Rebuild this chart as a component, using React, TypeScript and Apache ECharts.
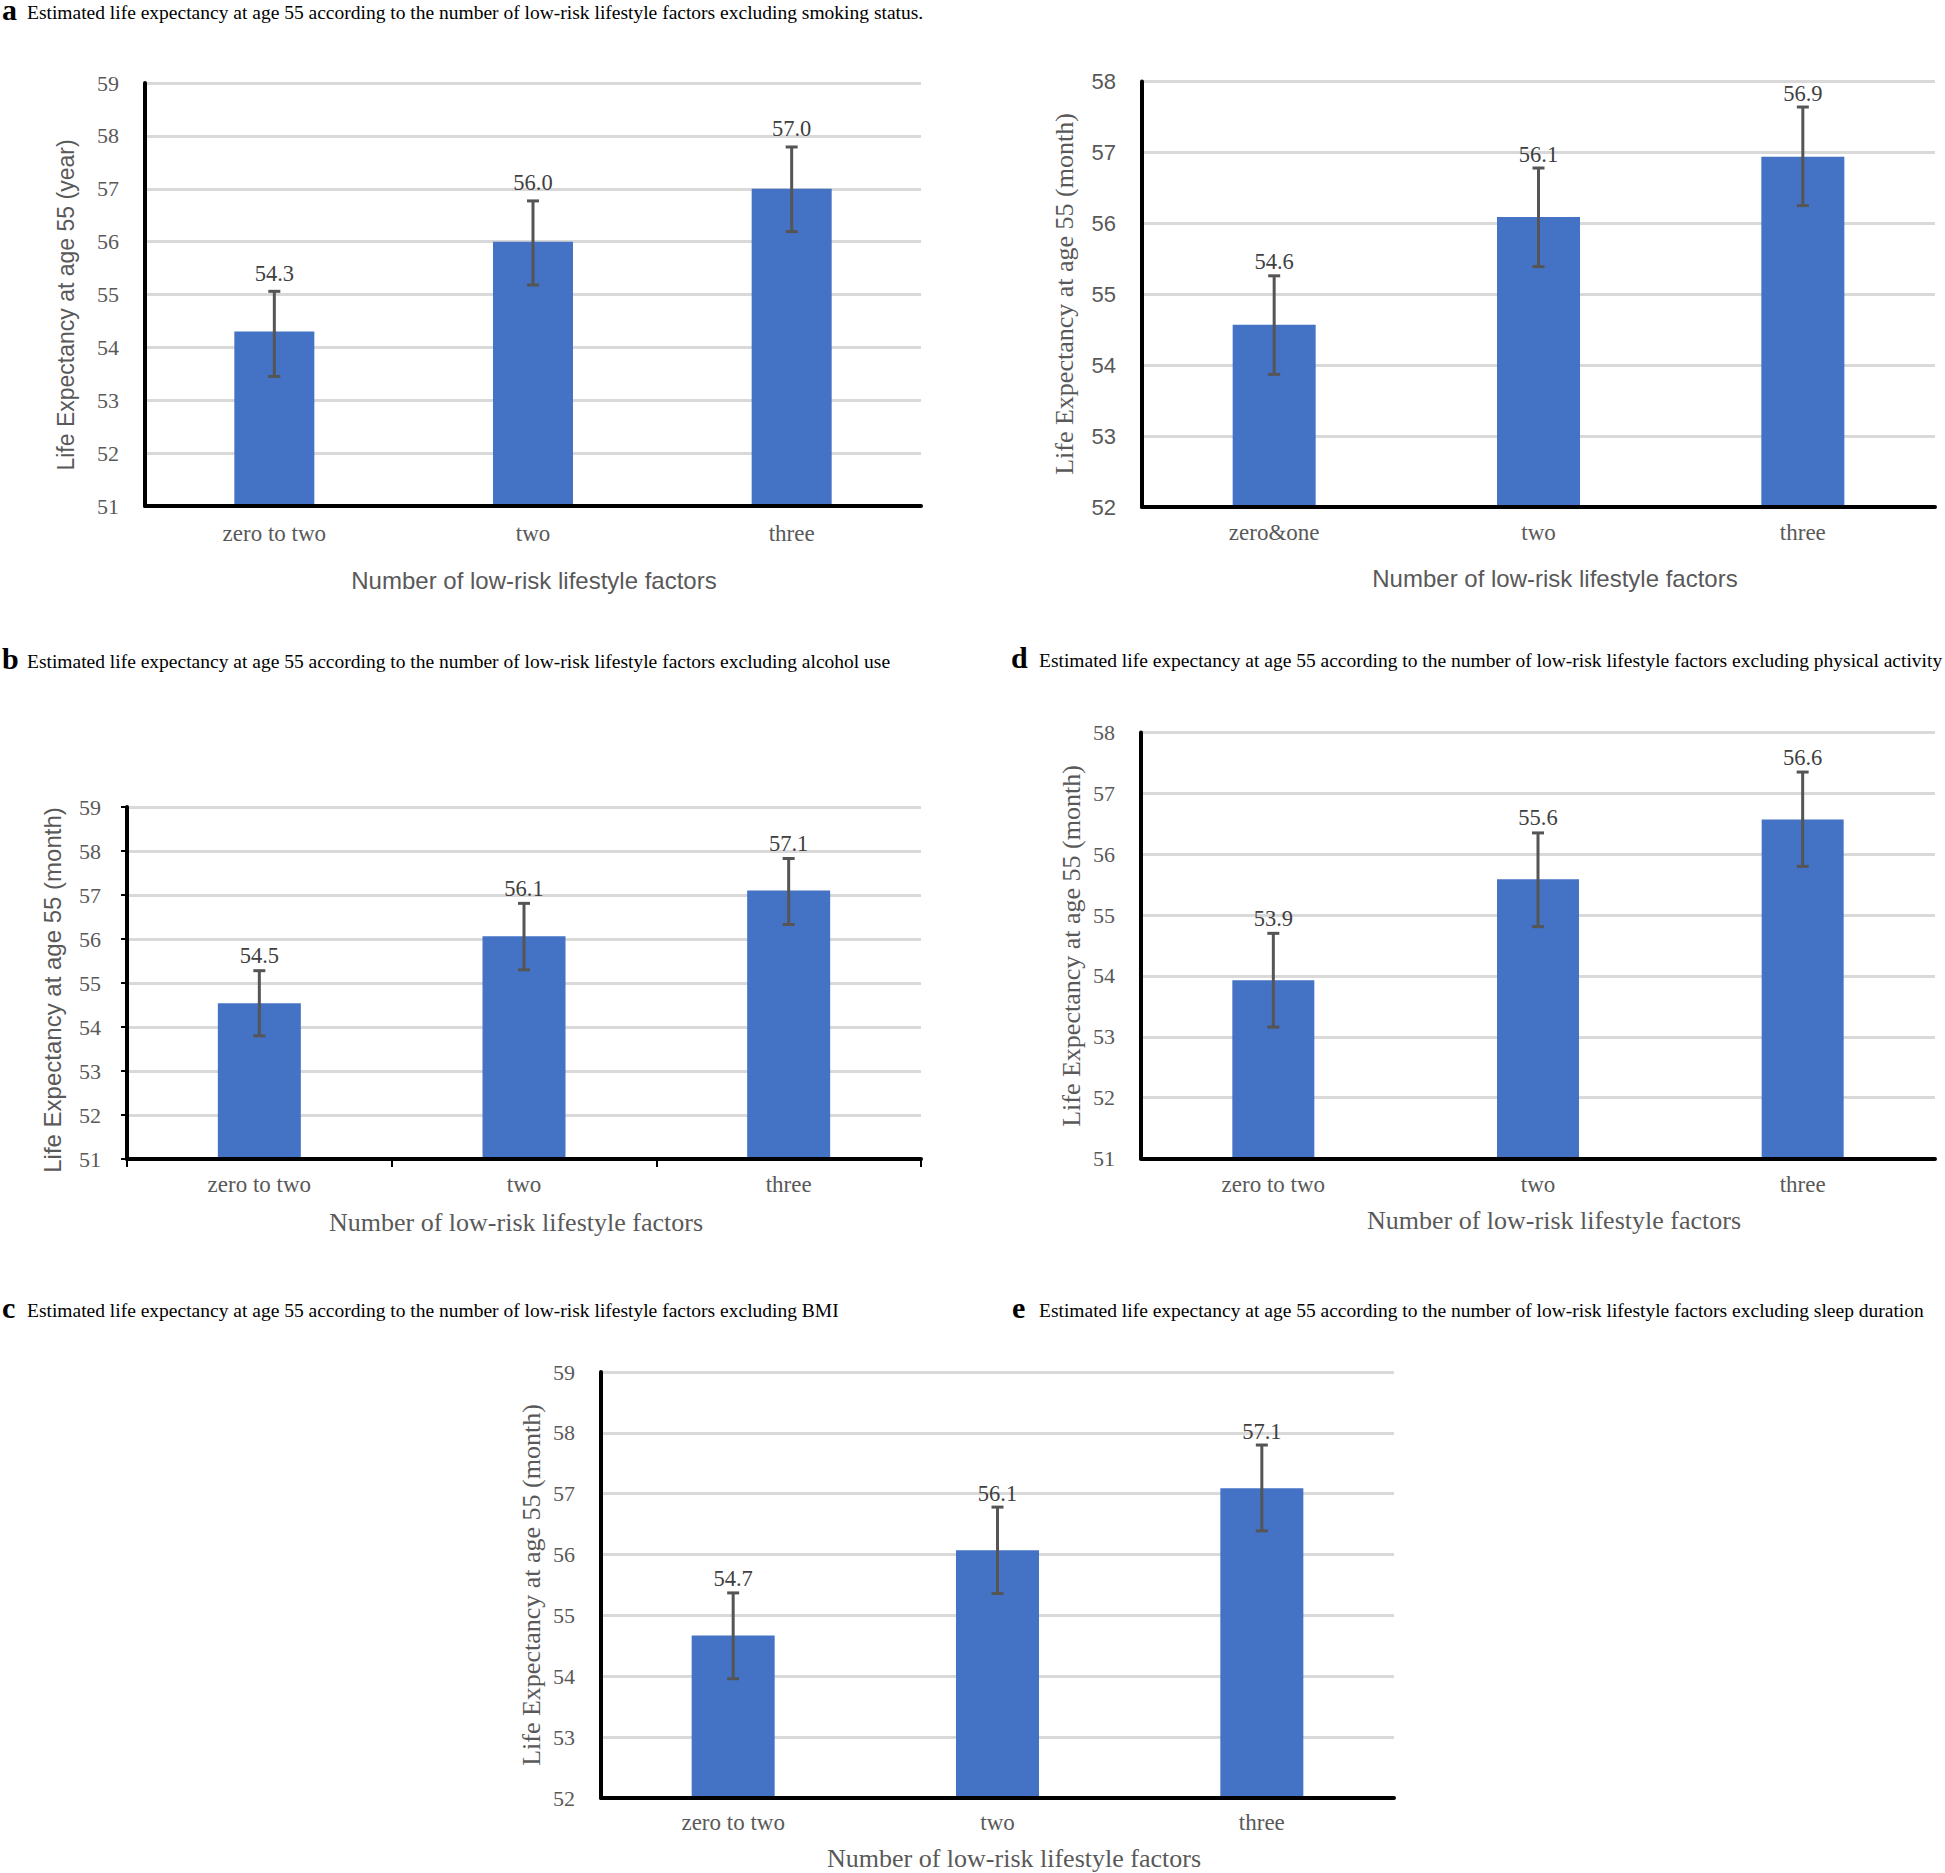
import React, { useEffect, useRef } from "react";
import * as echarts from "echarts";

const SERIF = '"Liberation Serif", "Times New Roman", serif';
const SANS = '"Liberation Sans", Arial, sans-serif';

const TITLE_STEM =
  "Estimated life expectancy at age 55 according to the number of low-risk lifestyle factors excluding ";
const X_NAME = "Number of low-risk lifestyle factors";

// Panel a (top-left)
const aCategories = ["zero to two", "two", "three"];
const aValues = [54.3, 56.0, 57.0];
const aLower = [53.45, 55.18, 56.19];
const aUpper = [55.06, 56.77, 57.79];
const aRange = [51, 59];

// Panel top-right (no caption)
const rCategories = ["zero&one", "two", "three"];
const rValues = [54.57, 56.09, 56.94];
const rLower = [53.87, 55.39, 56.25];
const rUpper = [55.26, 56.78, 57.64];
const rRange = [52, 58];

// Panel b (middle-left)
const bCategories = ["zero to two", "two", "three"];
const bValues = [54.54, 56.06, 57.1];
const bLower = [53.8, 55.3, 56.33];
const bUpper = [55.28, 56.81, 57.83];
const bRange = [51, 59];

// Panel d (middle-right)
const dCategories = ["zero to two", "two", "three"];
const dValues = [53.93, 55.59, 56.57];
const dLower = [53.16, 54.81, 55.8];
const dUpper = [54.7, 56.35, 57.35];
const dRange = [51, 58];

// Panel bottom (centered)
const eCategories = ["zero to two", "two", "three"];
const eValues = [54.67, 56.07, 57.09];
const eLower = [53.96, 55.36, 56.39];
const eUpper = [55.37, 56.78, 57.8];
const eRange = [52, 59];

const captions = [
  { letter: "a", text: TITLE_STEM + "smoking status.", lx: 2, tx: 27, ymid: 12 },
  { letter: "b", text: TITLE_STEM + "alcohol use", lx: 2, tx: 27, ymid: 661 },
  { letter: "d", text: TITLE_STEM + "physical activity", lx: 1011, tx: 1039, ymid: 660 },
  { letter: "c", text: TITLE_STEM + "BMI", lx: 2, tx: 27, ymid: 1310 },
  { letter: "e", text: TITLE_STEM + "sleep duration", lx: 1012, tx: 1039, ymid: 1310 },
];

const panels = [
  {
    cats: aCategories, vals: aValues, lo: aLower, hi: aUpper, range: aRange,
    grid: { left: 145, top: 83, width: 776, height: 423 }, barWidth: 80,
    tickFont: SERIF,
    yName: "Life Expectancy at age 55 (year)", yFont: SANS, ySize: 23, yPos: [66, 305],
    xFont: SANS, xSize: 24, xPos: [534, 580], ticks: false, catMargin: 16, gap: 18,
  },
  {
    cats: rCategories, vals: rValues, lo: rLower, hi: rUpper, range: rRange,
    grid: { left: 1142, top: 81.5, width: 793, height: 425.5 }, barWidth: 83,
    tickFont: SANS,
    yName: "Life Expectancy at age 55 (month)", yFont: SERIF, ySize: 26, yPos: [1064, 294],
    xFont: SANS, xSize: 24, xPos: [1555, 578], ticks: false, catMargin: 14, gap: 14,
  },
  {
    cats: bCategories, vals: bValues, lo: bLower, hi: bUpper, range: bRange,
    grid: { left: 127, top: 807, width: 794, height: 352 }, barWidth: 83,
    tickFont: SERIF,
    yName: "Life Expectancy at age 55 (month)", yFont: SANS, ySize: 24, yPos: [52, 990],
    xFont: SERIF, xSize: 26, xPos: [516, 1222], ticks: true, catMargin: 14, gap: 15,
  },
  {
    cats: dCategories, vals: dValues, lo: dLower, hi: dUpper, range: dRange,
    grid: { left: 1141, top: 732.5, width: 794, height: 426 }, barWidth: 82,
    tickFont: SERIF,
    yName: "Life Expectancy at age 55 (month)", yFont: SERIF, ySize: 26, yPos: [1071, 946],
    xFont: SERIF, xSize: 26, xPos: [1554, 1220], ticks: false, catMargin: 14, gap: 15,
  },
  {
    cats: eCategories, vals: eValues, lo: eLower, hi: eUpper, range: eRange,
    grid: { left: 601, top: 1372, width: 793, height: 426 }, barWidth: 83,
    tickFont: SERIF,
    yName: "Life Expectancy at age 55 (month)", yFont: SERIF, ySize: 26, yPos: [531, 1585],
    xFont: SERIF, xSize: 26, xPos: [1014, 1858], ticks: false, catMargin: 13, gap: 14,
  },
];

function textEl(text: string, x: number, y: number, size: number, family: string, opts: any = {}) {
  return {
    type: "text",
    x,
    y,
    rotation: opts.rotation || 0,
    silent: true,
    style: {
      text,
      fill: opts.fill || "#595959",
      fontSize: size,
      fontFamily: family,
      fontWeight: opts.weight || "normal",
      lineHeight: opts.lineHeight || Math.round(size * 1.15),
      textAlign: opts.align || "center",
      align: opts.align || "center",
      textVerticalAlign: "middle",
      verticalAlign: "middle",
    },
  };
}

export default function App() {
  const ref = useRef<HTMLDivElement>(null);

  useEffect(() => {
    document.body.style.margin = "0";
    if (!ref.current) return;
    const chart = echarts.init(ref.current, undefined, { renderer: "svg" });

    const graphic: any[] = [];
    captions.forEach((c) => {
      graphic.push(
        textEl(c.letter, c.lx, c.ymid - 3, 30, SERIF, { weight: "bold", fill: "#000", align: "left", lineHeight: 16 })
      );
      graphic.push(textEl(c.text, c.tx, c.ymid, 19.5, SERIF, { fill: "#000", align: "left", lineHeight: 20 }));
    });
    panels.forEach((p) => {
      graphic.push(textEl(X_NAME, p.xPos[0], p.xPos[1], p.xSize, p.xFont, { lineHeight: 24 }));
      graphic.push(textEl(p.yName, p.yPos[0], p.yPos[1], p.ySize, p.yFont, { rotation: Math.PI / 2 }));
    });

    const series: any[] = [];
    panels.forEach((p, i) => {
      series.push({
        type: "bar",
        xAxisIndex: i,
        yAxisIndex: i,
        data: p.vals,
        barWidth: p.barWidth,
        itemStyle: { color: "#4472C4" },
        z: 2,
      });
      const gap = p.gap;
      series.push({
        type: "custom",
        xAxisIndex: i,
        yAxisIndex: i,
        z: 4,
        encode: { x: 0, y: [1, 2] },
        data: p.cats.map((_, j) => [j, p.lo[j], p.hi[j], p.vals[j]]),
        renderItem: (params: any, api: any) => {
          const idx = api.value(0);
          const lo = api.coord([idx, api.value(1)]);
          const hi = api.coord([idx, api.value(2)]);
          const cx = lo[0];
          const st = { stroke: "#555555", lineWidth: 3 };
          return {
            type: "group",
            children: [
              { type: "line", shape: { x1: cx, y1: hi[1], x2: cx, y2: lo[1] }, style: st },
              { type: "line", shape: { x1: cx - 6, y1: hi[1], x2: cx + 6, y2: hi[1] }, style: st },
              { type: "line", shape: { x1: cx - 6, y1: lo[1], x2: cx + 6, y2: lo[1] }, style: st },
              {
                type: "text",
                x: cx,
                y: hi[1] - gap,
                style: {
                  text: Number(api.value(3)).toFixed(1),
                  fill: "#404040",
                  fontSize: 22.5,
                  fontFamily: SERIF,
                  textAlign: "center",
                  align: "center",
                  textVerticalAlign: "middle",
                  verticalAlign: "middle",
                },
              },
            ],
          };
        },
      });
    });

    chart.setOption({
      animation: false,
      backgroundColor: "#ffffff",
      grid: panels.map((p) => ({ ...p.grid, containLabel: false })),
      xAxis: panels.map((p, i) => ({
        type: "category",
        gridIndex: i,
        data: p.cats,
        z: 5,
        axisLine: { show: true, onZero: false, lineStyle: { color: "#000", width: 4 } },
        axisTick: { show: p.ticks, length: 8, lineStyle: { color: "#000", width: 2 } },
        axisLabel: { margin: p.catMargin, color: "#595959", fontSize: 23, fontFamily: SERIF },
        splitLine: { show: false },
      })),
      yAxis: panels.map((p, i) => ({
        type: "value",
        gridIndex: i,
        min: p.range[0],
        max: p.range[1],
        interval: 1,
        axisLine: { show: true, lineStyle: { color: "#000", width: 4 } },
        axisTick: { show: p.ticks, length: 6, lineStyle: { color: "#000", width: 2 } },
        axisLabel: { margin: 26, color: "#595959", fontSize: 22, fontFamily: p.tickFont },
        splitLine: { show: true, lineStyle: { color: "#d9d9d9", width: 3 } },
      })),
      series,
      graphic,
    });

    return () => chart.dispose();
  }, []);

  return <div ref={ref} style={{ width: 1945, height: 1873 }} />;
}
